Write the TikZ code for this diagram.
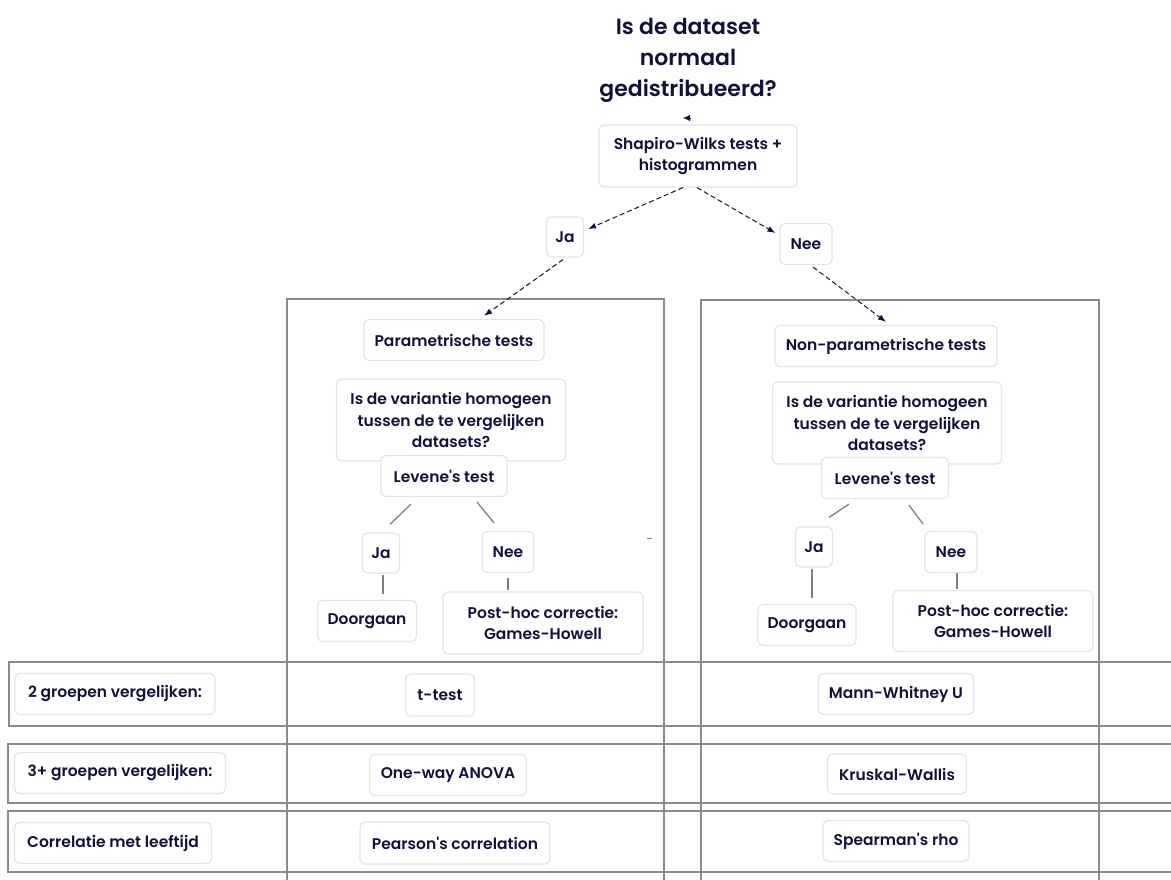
\documentclass[tikz,border=0pt]{standalone}
\usepackage{fontspec}
\setmainfont{Poppins}[BoldFont={Poppins SemiBold}]
\usetikzlibrary{arrows.meta}

\definecolor{inkblue}{HTML}{10123A}
\definecolor{cardline}{HTML}{E4E4E6}
\definecolor{framegray}{HTML}{8A8A8A}

\tikzset{
  card/.style={draw=cardline, line width=1.2pt, rounded corners=5pt, fill=white,
    text=inkblue, align=center, inner sep=0pt,
    font=\bfseries\fontsize{15.5}{21.5}\selectfont},
  choice/.style={draw=inkblue, line width=1pt, dash pattern=on 5pt off 3pt,
    -{Latex[length=8pt,width=6pt]}},
  stem/.style={draw=gray, line width=1.3pt},
  frame/.style={draw=framegray, line width=1.6pt}
}

\begin{document}
\begin{tikzpicture}[x=1pt,y=-1pt]
  \useasboundingbox (0,0) rectangle (1171,879);

  % kolommen en rijen
  \draw[frame] (287,299) rectangle (664,900);
  \draw[frame] (701,300) rectangle (1099,900);
  \draw[frame] (9,662) rectangle (1185,726);
  \draw[frame] (8,744) rectangle (1185,803);
  \draw[frame] (8,811) rectangle (1185,872);
  \draw[framegray, line width=1pt] (647,538) -- (652,538);

  % startvraag
  \node[text=inkblue, align=center, font=\bfseries\fontsize{22}{31}\selectfont]
    (normaal) at (688,60) {Is de dataset\\normaal\\gedistribueerd?};
  \coordinate (tipstart) at (691,118);
  \coordinate (tipend) at (683,118);
  \draw[inkblue, -{Latex[length=7pt,width=6pt]}] (tipstart) -- (tipend);

  \node[card, minimum width=198, minimum height=62] (shapiro) at (698,156)
    {Shapiro-Wilks tests +\\histogrammen};
  \node[card, minimum width=37, minimum height=40] (ja) at (565,237) {Ja};
  \node[card, minimum width=52, minimum height=41] (nee) at (806,244) {Nee};

  \draw[choice] ([xshift=-15pt]shapiro.south) -- ([xshift=4pt,yshift=8pt]ja.east);
  \draw[choice] ([xshift=-1pt]shapiro.south) -- ([xshift=-4pt,yshift=11pt]nee.west);

  % parametrisch
  \node[card, minimum width=180, minimum height=41] (param) at (454,340) {Parametrische tests};
  \node[card, minimum width=229, minimum height=82] (varL) at (451,420)
    {Is de variantie homogeen\\tussen de te vergelijken\\datasets?};
  \node[card, minimum width=126, minimum height=41] (leveneL) at (444,476) {Levene\textquotesingle s test};
  \node[card, minimum width=37, minimum height=40] (jaL) at (381,553) {Ja};
  \node[card, minimum width=52, minimum height=41] (neeL) at (508,552) {Nee};
  \node[card, minimum width=99, minimum height=41] (doorL) at (367,621) {Doorgaan};
  \node[card, minimum width=200, minimum height=62] (postL) at (543,623)
    {Post-hoc correctie:\\Games-Howell};

  \draw[choice] ([xshift=-2pt,yshift=-2pt]ja.south) -- ([xshift=30pt,yshift=3pt]param.north);
  \draw[stem] ([xshift=-33pt,yshift=-7pt]leveneL.south) -- ([xshift=9pt,yshift=8pt]jaL.north);
  \draw[stem] ([xshift=33pt,yshift=-5pt]leveneL.south) -- ([xshift=-14pt,yshift=8pt]neeL.north);
  \draw[stem] ([xshift=2pt,yshift=-1pt]jaL.south) -- ([xshift=2pt,yshift=6pt]doorL.north -| jaL.south);
  \draw[stem] ([yshift=-5pt]neeL.south) -- ([yshift=1pt]postL.north -| neeL.south);

  % non-parametrisch
  \node[card, minimum width=222, minimum height=41] (nonparam) at (886,346) {Non-parametrische tests};
  \node[card, minimum width=229, minimum height=82] (varR) at (887,423)
    {Is de variantie homogeen\\tussen de te vergelijken\\datasets?};
  \node[card, minimum width=127, minimum height=41] (leveneR) at (885,478) {Levene\textquotesingle s test};
  \node[card, minimum width=37, minimum height=40] (jaR) at (814,547) {Ja};
  \node[card, minimum width=52, minimum height=41] (neeR) at (951,552) {Nee};
  \node[card, minimum width=98, minimum height=41] (doorR) at (807,625) {Doorgaan};
  \node[card, minimum width=200, minimum height=61] (postR) at (993,621)
    {Post-hoc correctie:\\Games-Howell};

  \draw[choice] ([xshift=7pt,yshift=-2pt]nee.south) -- ([yshift=3pt]nonparam.north);
  \draw[stem] ([xshift=-36pt,yshift=-5pt]leveneR.south) -- ([xshift=15pt,yshift=9pt]jaR.north);
  \draw[stem] ([xshift=24pt,yshift=-6pt]leveneR.south) -- ([xshift=-28pt,yshift=7pt]neeR.north);
  \draw[stem] ([xshift=-2pt,yshift=-1pt]jaR.south) -- ([xshift=-2pt,yshift=6pt]doorR.north -| jaR.south);
  \draw[stem] ([xshift=6pt]neeR.south) -- ([xshift=6pt,yshift=1pt]postR.north -| neeR.south);

  % rijen
  \node[card, minimum width=200, minimum height=41] (twee) at (115,694) {2 groepen vergelijken:};
  \node[card, minimum width=69, minimum height=42] (ttest) at (440,695) {t-test};
  \node[card, minimum width=155, minimum height=41] (mann) at (896,694) {Mann-Whitney U};

  \node[card, minimum width=211, minimum height=41] (drie) at (120,773) {3+ groepen vergelijken:};
  \node[card, minimum width=157, minimum height=41] (anova) at (448,775) {One-way ANOVA};
  \node[card, minimum width=139, minimum height=40] (kruskal) at (897,774) {Kruskal-Wallis};

  \node[card, minimum width=197, minimum height=41] (leeftijd) at (113,843) {Correlatie met leeftijd};
  \node[card, minimum width=190, minimum height=42] (pearson) at (455,843) {Pearson\textquotesingle s correlation};
  \node[card, minimum width=146, minimum height=41] (spearman) at (896,841) {Spearman\textquotesingle s rho};
\end{tikzpicture}
\end{document}
